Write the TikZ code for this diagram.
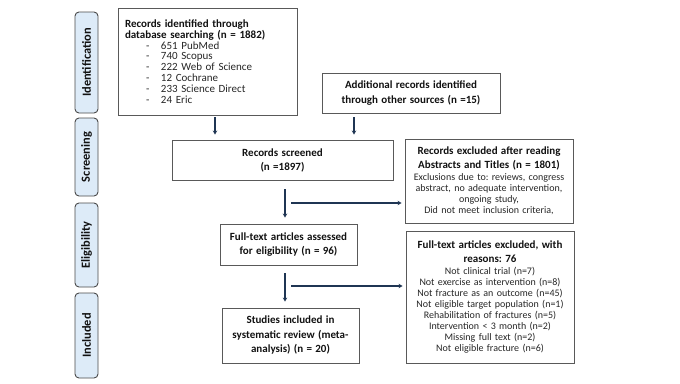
\documentclass[tikz,border=0pt]{standalone}
\usepackage{fontspec}
\setmainfont{Carlito}
\frenchspacing
\usetikzlibrary{arrows.meta}
\definecolor{arrowcol}{HTML}{1F3553}
\definecolor{boxline}{HTML}{595959}
\definecolor{sidefill}{HTML}{DDEBF8}
\definecolor{sideline}{HTML}{4A4A4A}
\definecolor{txt}{HTML}{262626}
\definecolor{ttltxt}{HTML}{111111}
\tikzset{
  box/.style={draw=boxline, line width=0.9pt, rectangle, inner sep=0pt, align=center, text=txt, font=\fontsize{10}{11}\selectfont},
  side/.style={draw=sideline, fill=sidefill, line width=0.9pt, rounded corners=4pt, rotate=90, minimum height=23pt, inner sep=0pt, text=ttltxt, font=\fontsize{12.4}{13}\selectfont\bfseries},
  arr/.style={draw=arrowcol, line width=2pt, -{Stealth[length=4pt,width=4.5pt]}},
}
\newcommand{\ttl}[1]{{\color{ttltxt}\fontsize{11}{11}\selectfont\bfseries #1}}
\newcommand{\itm}[1]{\makebox[21pt][l]{}\makebox[15pt][l]{-}#1}
\begin{document}
\begin{tikzpicture}[x=1pt,y=-1pt]
\useasboundingbox (0,0) rectangle (680,383);
% side labels
\node[side, minimum width=101pt] (sid) at (86.5,62.5) {Identification};
\node[side, minimum width=78pt] (sscr) at (86.5,157) {Screening};
\node[side, minimum width=84pt] (selg) at (86.5,245) {Eligibility};
\node[side, minimum width=85pt] (sinc) at (86.5,335.5) {Included};
% boxes
\node[box, minimum width=179pt, minimum height=107pt, text width=165pt, align=left, inner xsep=7pt, font=\fontsize{11}{10.8}\selectfont] (b1) at (207.5,61.5)
 {\ttl{Records identified through\\database searching (n = 1882)}\\
  \itm{651 PubMed}\\ \itm{740 Scopus}\\ \itm{222 Web of Science}\\ \itm{12 Cochrane}\\ \itm{233 Science Direct}\\ \itm{24 Eric}};
\node[box, minimum width=178pt, minimum height=40pt, text width=174pt] (b2) at (411,93)
 {\ttl{Additional records identified\\[3.5pt]through other sources (n =15)}};
\node[box, minimum width=221pt, minimum height=40pt, text width=217pt] (b3) at (282.5,160)
 {\ttl{Records screened\\[3pt](n =1897)}};
\node[box, minimum width=168pt, minimum height=84pt, text width=164pt] (b4) at (489,181)
 {\ttl{Records excluded after reading\\[3pt]Abstracts and Titles (n = 1801)}\\[1pt]
  Exclusions due to: reviews, congress\\ abstract, no adequate intervention,\\ ongoing study,\\ Did not meet inclusion criteria,};
\node[box, minimum width=137pt, minimum height=41pt, text width=133pt] (b5) at (288.5,244.5)
 {\ttl{Full-text articles assessed\\[3pt]for eligibility (n = 96)}};
\node[box, minimum width=168pt, minimum height=132pt, text width=164pt] (b6) at (490,297)
 {\ttl{Full-text articles excluded, with\\[3pt]reasons: 76}\\[1pt]
  Not clinical trial (n=7)\\ Not exercise as intervention (n=8)\\ Not fracture as an outcome (n=45)\\
  Not eligible target population (n=1)\\ Rehabilitation of fractures (n=5)\\ Intervention < 3 month (n=2)\\
  Missing full text (n=2)\\ Not eligible fracture (n=6)};
\node[box, minimum width=137pt, minimum height=55pt, text width=133pt] (b7) at (290.5,335.5)
 {\ttl{Studies included in\\[3.5pt]systematic review (meta-\\[3.5pt]analysis) (n = 20)}};
% connectors
\draw[arr, shorten <=2pt, shorten >=5pt] ([xshift=7.5pt]b1.south) -- ([xshift=-67.5pt]b3.north);
\draw[arr, shorten <=4pt, shorten >=5pt] ([xshift=-57pt]b2.south) -- ([xshift=71.5pt]b3.north);
\draw[arr, shorten <=9pt, shorten >=6pt] ([xshift=2.5pt]b3.south) -- ([xshift=-3.5pt]b5.north);
\coordinate (h1) at (291,203);
\draw[arr, shorten >=3pt] (h1) -- (h1 -| b4.west);
\draw[arr, shorten <=8pt, shorten >=6pt] ([xshift=-3.5pt]b5.south) -- ([xshift=-5.5pt]b7.north);
\coordinate (h2) at (291,286);
\draw[arr, shorten >=3pt] (h2) -- (h2 -| b6.west);
\end{tikzpicture}
\end{document}
